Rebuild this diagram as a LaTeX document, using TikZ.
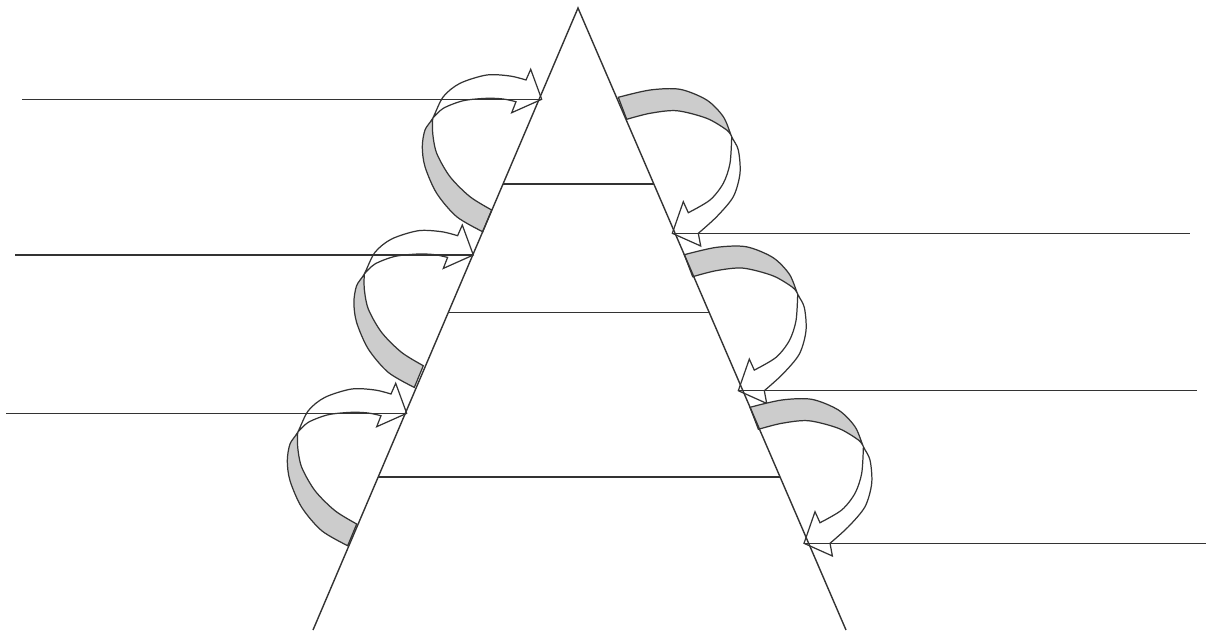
\documentclass[tikz,border=0pt]{standalone}
\usetikzlibrary{calc}

\tikzset{
  edge line/.style={line width=0.8pt, draw=black!80},
  ribbon line/.style={line width=0.7pt, draw=black!80, line join=miter},
  ribbon shade/.style={fill=black!20},
  % curved arrow entering the pyramid from the left, origin = tip
  pics/leftloop/.style={code={
    \fill[ribbon shade] plot[smooth] coordinates {(-59,132.4) (-85,117.4) (-105,94) (-116.7,67.4) (-119.4,47.4) (-116.7,30.7) (-109,19)}
      -- plot[smooth] coordinates {(-109,19) (-109,34) (-105,54) (-91.7,77.4) (-71.7,97.4) (-50,110.7)} -- cycle;
    \draw[ribbon line] plot[smooth] coordinates {(-59,132.4) (-85,117.4) (-105,94) (-116.7,67.4) (-119.4,47.4) (-116.7,30.7) (-109,19) (-98.4,-2.6) (-81.7,-16) (-55,-24.3) (-31.7,-23.3) (-15.7,-19.3)}
      -- (-11,-30) -- (0,0) -- (-30,13.4) -- (-25.7,2.4)
      -- plot[smooth] coordinates {(-25.7,2.4) (-38.4,-0.3) (-55,-1) (-78.4,1.4) (-98.4,9) (-109,19)}
      -- plot[smooth] coordinates {(-109,19) (-109,34) (-105,54) (-91.7,77.4) (-71.7,97.4) (-50,110.7)} -- cycle;
  }},
  % curved arrow entering the pyramid from the right, origin = tip
  pics/rightloop/.style={code={
    \fill[ribbon shade] plot[smooth] coordinates {(-54,-136) (-22.3,-143.3) (7.7,-144) (34.4,-133.3) (51,-116.6) (59.4,-96.6)}
      -- plot[smooth] coordinates {(59.4,-96.6) (54.4,-103.3) (34.4,-115) (4.4,-122.6) (-22.3,-120) (-45.6,-114)} -- cycle;
    \draw[ribbon line] plot[smooth] coordinates {(-54,-136) (-22.3,-143.3) (7.7,-144) (34.4,-133.3) (51,-116.6) (59.4,-96.6) (66,-83.3) (67.7,-60) (61,-36.6) (44.4,-16.6) (26,0)}
      -- (28.4,12.7) -- (0,0) -- (11,-31.6) -- (16,-20.6)
      -- plot[smooth] coordinates {(16,-20.6) (37.7,-33.3) (51,-50) (57.7,-70) (59.4,-96.6)}
      -- plot[smooth] coordinates {(59.4,-96.6) (54.4,-103.3) (34.4,-115) (4.4,-122.6) (-22.3,-120) (-45.6,-114)} -- cycle;
  }}
}

\begin{document}
\begin{tikzpicture}[x=0.02cm, y=-0.02cm]
	\useasboundingbox (0,0) rectangle (1207,630);

	% --- Arrows on the left side ---
	\foreach \name/\tx/\ty/\lx in {la/541.7/99.3/22, lb/473.3/255/15, lc/406.7/413.3/6} {
		\coordinate (\name) at (\tx,\ty);
		\coordinate (\name-end) at (\lx,\ty);
		\pic at (\name) {leftloop};
		\draw[edge line] (\name-end) -- (\name);
	}

	% --- Arrows on the right side ---
	\foreach \name/\tx/\ty/\lx in {ra/672.3/233.3/1190, rb/738.3/390.7/1197, rc/804/543.3/1206} {
		\coordinate (\name) at (\tx,\ty);
		\coordinate (\name-end) at (\lx,\ty);
		\pic at (\name) {rightloop};
		\draw[edge line] (\name) -- (\name-end);
	}

	% --- Pyramid ---
	\coordinate (apex) at (578,8);
	\coordinate (base-l) at (313,630);
	\coordinate (base-r) at (846,630);
	\draw[edge line] (base-l) -- (apex) -- (base-r);

	% tier borders
	\foreach \t in {0.283, 0.490, 0.754} {
		\draw[edge line] ($(apex)!\t!(base-l)$) -- ($(apex)!\t!(base-r)$);
	}

\end{tikzpicture}
\end{document}
